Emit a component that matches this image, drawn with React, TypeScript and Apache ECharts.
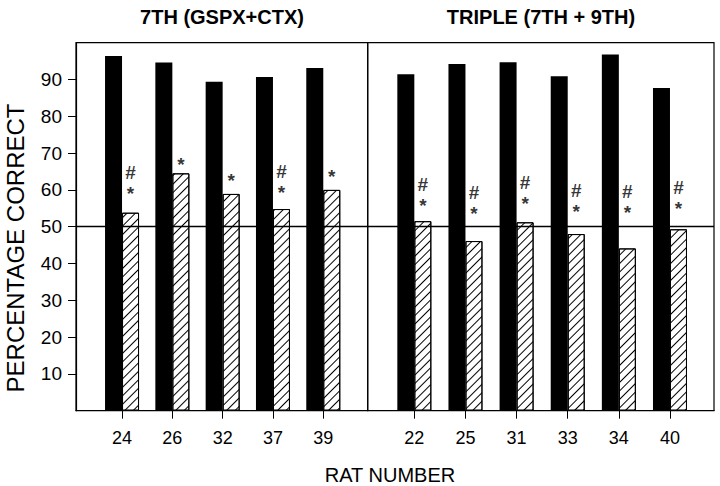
import React, { useEffect, useRef } from 'react';
import * as echarts from 'echarts';

// ---- data ----
const leftRats = ['24', '26', '32', '37', '39'];
const rightRats = ['22', '25', '31', '33', '34', '40'];
const leftBlack = [96.4, 94.6, 89.4, 90.7, 93.1];
const leftHatched = [53.8, 64.5, 58.9, 54.8, 60.0];
const rightBlack = [91.4, 94.2, 94.7, 90.9, 96.8, 87.7];
const rightHatched = [51.5, 46.1, 51.2, 48.0, 44.1, 49.3];
const leftMarks = ['#\n*', '*', '*', '#\n*', '*'];
const leftMarkY = [60.3, 68.1, 63.8, 60.4, 64.7];
const rightMarks = ['#\n*', '#\n*', '#\n*', '#\n*', '#\n*', '#\n*'];
const rightMarkY = [56.8, 54.7, 57.6, 55.3, 55.0, 56.0];
const chanceLevel = 50;
const yTicks = [10, 20, 30, 40, 50, 60, 70, 80, 90];
const panelTitles = ['7TH (GSPX+CTX)', 'TRIPLE (7TH + 9TH)'];
const yAxisTitle = 'PERCENTAGE CORRECT';
const xAxisTitle = 'RAT NUMBER';

const FONT = '"Liberation Sans", Arial, Helvetica, sans-serif';

const leftPos = leftRats.map((_, i) => i + 1);
const rightPos = rightRats.map((_, i) => i + 1);

const hatchDecal = {
  symbol: 'rect',
  symbolSize: 1,
  dashArrayX: [1, 0],
  dashArrayY: [1, 4.4],
  rotation: -Math.PI / 4,
  color: '#000',
  backgroundColor: '#fff',
};

function panelSeries(idx: number, pos: number[], black: number[], hatched: number[], marks: string[], markY: number[]) {
  return [
    {
      type: 'bar',
      xAxisIndex: idx,
      yAxisIndex: idx,
      barWidth: 17,
      barGap: '0%',
      silent: true,
      itemStyle: { color: '#000' },
      data: pos.map((p, i) => [p, black[i]]),
    },
    {
      type: 'bar',
      xAxisIndex: idx,
      yAxisIndex: idx,
      barWidth: 17,
      barGap: '0%',
      silent: true,
      itemStyle: { color: '#fff', borderColor: '#000', borderWidth: 1, decal: hatchDecal },
      data: pos.map((p, i) => [p, hatched[i]]),
      markLine: {
        silent: true,
        symbol: 'none',
        label: { show: false },
        lineStyle: { color: '#000', width: 1.3, type: 'solid' },
        data: [{ yAxis: chanceLevel }],
      },
    },
    {
      type: 'scatter',
      xAxisIndex: idx,
      yAxisIndex: idx,
      symbolSize: 1,
      silent: true,
      itemStyle: { color: 'rgba(0,0,0,0)' },
      data: pos.map((p, i) => ({
        value: [p, markY[i]],
        label: { offset: [8.5, marks[i].indexOf('\n') >= 0 ? -6.2 : 4.3] },
      })),
      label: {
        show: true,
        position: 'inside',
        formatter: (prm: any) => marks[prm.dataIndex],
        fontSize: 19,
        fontWeight: 'bold',
        lineHeight: 21,
        color: '#000',
        fontFamily: FONT,
        align: 'center',
      },
    },
  ];
}

function xAxis(idx: number, pos: number[], rats: string[], min: number, max: number) {
  return {
    type: 'value',
    gridIndex: idx,
    min,
    max,
    splitLine: { show: false },
    axisLine: { show: true, onZero: false, lineStyle: { color: '#000', width: 1.2 } },
    axisTick: { show: true, length: 8, lineStyle: { color: '#000', width: 1 }, customValues: pos },
    axisLabel: {
      customValues: pos,
      formatter: (v: number) => rats[Math.round(v) - 1] ?? '',
      margin: 18,
      fontSize: 18,
      color: '#000',
      fontFamily: FONT,
    },
  };
}

function yAxis(idx: number, visible: boolean) {
  return {
    type: 'value',
    gridIndex: idx,
    min: 0,
    max: 100,
    interval: 10,
    splitLine: { show: false },
    axisLine: { show: visible, lineStyle: { color: '#000', width: 1.2 } },
    axisTick: { show: visible, length: 8, lineStyle: { color: '#000', width: 1 }, customValues: yTicks },
    axisLabel: {
      show: visible,
      customValues: yTicks,
      margin: 14,
      fontSize: 19,
      color: '#000',
      fontFamily: FONT,
    },
  };
}

const gridBase = { top: 42.7, height: 368, show: true, borderColor: '#000', borderWidth: 1.2, backgroundColor: 'transparent' };

const option = {
  animation: false,
  backgroundColor: '#fff',
  grid: [
    { ...gridBase, left: 76, width: 291.7 },
    { ...gridBase, left: 367.7, width: 346.3 },
  ],
  xAxis: [xAxis(0, leftPos, leftRats, 0.085, 5.883), xAxis(1, rightPos, rightRats, 0.088, 6.861)],
  yAxis: [yAxis(0, true), yAxis(1, false)],
  series: [
    ...panelSeries(0, leftPos, leftBlack, leftHatched, leftMarks, leftMarkY),
    ...panelSeries(1, rightPos, rightBlack, rightHatched, rightMarks, rightMarkY),
  ],
  graphic: [
    {
      type: 'text',
      x: 222,
      y: 17,
      silent: true,
      style: { text: panelTitles[0], fontSize: 20, fontWeight: 'bold', fontFamily: FONT, fill: '#000', align: 'center', verticalAlign: 'middle' },
    },
    {
      type: 'text',
      x: 541,
      y: 17,
      silent: true,
      style: { text: panelTitles[1], fontSize: 20, fontWeight: 'bold', fontFamily: FONT, fill: '#000', align: 'center', verticalAlign: 'middle' },
    },
    {
      type: 'text',
      x: 15,
      y: 248,
      rotation: Math.PI / 2,
      silent: true,
      style: { text: yAxisTitle, fontSize: 24, fontFamily: FONT, fill: '#000', align: 'center', verticalAlign: 'middle' },
    },
    {
      type: 'text',
      x: 390,
      y: 475,
      silent: true,
      style: { text: xAxisTitle, fontSize: 20, fontFamily: FONT, fill: '#000', align: 'center', verticalAlign: 'middle' },
    },
  ],
};

export default function App() {
  const ref = useRef<HTMLDivElement>(null);
  useEffect(() => {
    if (!ref.current) return;
    const chart = echarts.init(ref.current, null, { renderer: 'svg' });
    chart.setOption(option as any);
    return () => chart.dispose();
  }, []);
  return (
    <div
      ref={ref}
      style={{ position: 'fixed', left: 0, top: 0, width: 720, height: 486, background: '#fff' }}
    />
  );
}
